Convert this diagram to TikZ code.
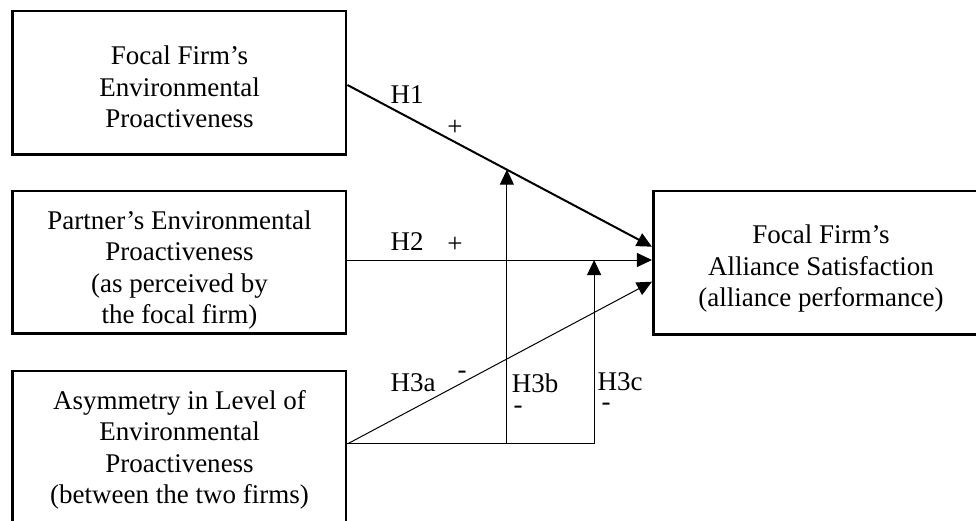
\documentclass[tikz,border=0pt]{standalone}
\usepackage{fontspec}
\setmainfont{Liberation Serif}
\usetikzlibrary{arrows.meta,calc}
\begin{document}
\begin{tikzpicture}[x=1pt,y=-1pt,
  boxst/.style={draw, line width=2.8pt, rectangle, inner sep=0pt},
  txt/.style={align=center, inner sep=0pt, font=\fontsize{27}{31.5}\selectfont},
  lbl/.style={inner sep=0pt, font=\fontsize{27}{31.5}\selectfont},
  tip/.style={-{Triangle[length=15pt,width=14pt]}},
  thinline/.style={line width=1pt},
  thickline/.style={line width=2pt}]
\useasboundingbox (0,0) rectangle (976,521);
\clip (0,0) rectangle (976,521);
% boxes
\node[boxst, minimum width=333.7pt, minimum height=143.3pt] (fp) at (179.2,82.7) {};
\node[boxst, minimum width=333.7pt, minimum height=142.8pt] (pp) at (179.2,262.4) {};
\node[boxst, minimum width=333.7pt, minimum height=169pt] (as) at (179.2,455.5) {};
\node[boxst, minimum width=346.7pt, minimum height=143.3pt] (fs) at (826.7,262.7) {};
% box texts
\node[txt] (fpt) at (179.5,87) {Focal Firm’s\\Environmental\\Proactiveness};
\node[txt] (ppt) at (179.5,270) {Partner’s Environmental\\Proactiveness\\(as perceived by\\the focal firm)};
\node[txt] (ast) at (179.5,449.8) {Asymmetry in Level of\\Environmental\\Proactiveness\\(between the two firms)};
\node[txt] (fst) at (821,269) {Focal Firm’s\\Alliance Satisfaction\\(alliance performance)};
% connector end points
\coordinate (h1s) at ($(fp.east)+(0,2.3)$);
\coordinate (h1e) at ($(fs.west)+(0,-16)$);
\coordinate (h2s) at ($(pp.east)+(0,-2.4)$);
\coordinate (h2e) at ($(fs.west)+(0,-2.7)$);
\coordinate (h3s) at ($(as.north east)+(0,74.3)$);
\coordinate (h3e) at ($(fs.west)+(0,19)$);
\coordinate (t1) at ($(h1s)!0.5236!(h1e)$);
\coordinate (t2) at ($(h2s)!0.81!(h2e)$);
\coordinate (m1) at (t1 |- h3s);
\coordinate (m2) at (t2 |- h3s);
% connectors
\draw[thickline, tip] (h1s) -- (h1e);
\draw[thinline, tip] (h2s) -- (h2e);
\draw[thinline, tip] (h3s) -- (h3e);
\draw[thinline] (h3s) -- (m2);
\draw[thinline, tip] (m1) -- (t1);
\draw[thinline, tip] (m2) -- (t2);
% labels
\node[lbl] (l1) at (407,95) {H1};
\node[lbl] (p1) at (455,128) {+};
\node[lbl] (l2) at (407,242) {H2};
\node[lbl] (p2) at (455,245) {+};
\node[lbl] (l3a) at (413,383) {H3a};
\node[lbl] (n3a) at (462,375) {-};
\node[lbl] (l3b) at (535,383) {H3b};
\node[lbl] (n3b) at (518,410) {-};
\node[lbl] (l3c) at (620,382) {H3c};
\node[lbl] (n3c) at (606,407) {-};
\end{tikzpicture}
\end{document}
